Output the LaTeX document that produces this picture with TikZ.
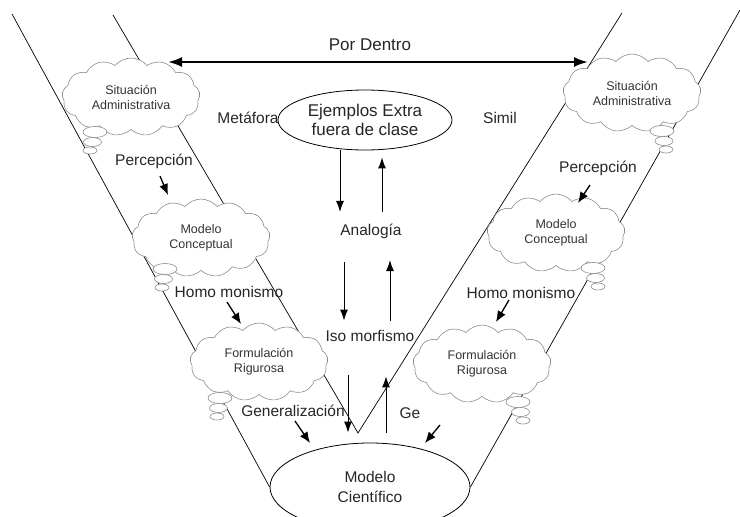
\documentclass[tikz,border=0pt]{standalone}
\usepackage{fontspec}
\setmainfont{Liberation Sans}
\usetikzlibrary{shapes.geometric,shapes.symbols,arrows.meta}

\tikzset{
  lbl/.style={font=\fontsize{15.5}{18}\selectfont, text=black!85},
  thought/.style={cloud, cloud puffs=13, cloud puff arc=100, cloud ignores aspect,
    draw=black!45, fill=white, line width=0.6pt, minimum width=138pt, minimum height=78pt,
    align=center, inner sep=0pt, font=\fontsize{12.5}{15}\selectfont, text=black!80},
  bub/.style={draw=black!45, fill=white, line width=0.6pt},
  oval/.style={ellipse, draw, fill=white, line width=0.8pt, align=center, inner sep=0pt, text=black!85},
  arr/.style={-{Latex[length=11pt,width=8pt]}, line width=1pt},
  tick/.style={-{Latex[length=11pt,width=9pt]}, line width=1.3pt},
  chan/.style={line width=0.7pt}
}

% three small puffs under a cloud: x, y of the first one, drift
\newcommand\bubbles[3]{%
  \draw[bub] (#1,#2) ellipse [x radius=12, y radius=5.5];
  \draw[bub] (#1+#3,#2+10) ellipse [x radius=9, y radius=4.5];
  \draw[bub] (#1+2*#3,#2+18.5) ellipse [x radius=7, y radius=3.5];
}

\begin{document}
\begin{tikzpicture}[x=1pt,y=-1pt]
\useasboundingbox (0,0) rectangle (740,517);

\node[oval, minimum width=174pt, minimum height=60pt, font=\fontsize{17}{19}\selectfont] (ej) at (365,120) {Ejemplos Extra\\fuera de clase};
\node[oval, minimum width=200pt, minimum height=88pt, font=\fontsize{15.5}{20}\selectfont] (mc) at (370,487) {Modelo\\Científico};

% the two channels
\coordinate (oL) at (12,14);
\coordinate (iL) at (113,15);
\coordinate (iR) at (622,13);
\coordinate (oR) at (740,10);
\coordinate (v) at (358,433);
\draw[chan] (oL) -- (mc.west);
\draw[chan] (iL) -- (v) -- (iR);
\draw[chan] (oR) -- (mc.east);

% por dentro
\coordinate (dL) at (168,62);
\coordinate (dR) at (588,62);
\draw[{Latex[length=14pt,width=10pt]}-{Latex[length=14pt,width=10pt]}, line width=2.2pt] (dR) -- (dL);

\node[lbl, font=\fontsize{17}{20}\selectfont] (dentro) at (370,45) {Por Dentro};
\node[lbl] (met) at (248,118) {Metáfora};
\node[lbl] (sim) at (500,118) {Simil};
\node[lbl] (percL) at (154,161) {Percepción};
\node[lbl] (percR) at (598,168) {Percepción};
\node[lbl, inner ysep=11.5pt] (an) at (371,231) {Analogía};
\node[lbl] (homoL) at (229,292) {Homo monismo};
\node[lbl] (homoR) at (521,293) {Homo monismo};
\node[lbl, inner ysep=9.5pt] (iso) at (370,336) {Iso morfismo};
\node[lbl] (gen) at (293,411) {Generalización};
\node[lbl, anchor=west] (ge) at (396,413) {Ge};

\node[thought] (saL) at (131,97) {Situación\\Administrativa};
\node[thought] (saR) at (632,93) {Situación\\Administrativa};
\node[thought] (mcL) at (201,238) {Modelo\\Conceptual};
\node[thought] (mcR) at (556,233) {Modelo\\Conceptual};
\node[thought] (frL) at (259,362) {Formulación\\Rigurosa};
\node[thought] (frR) at (482,364) {Formulación\\Rigurosa};
\bubbles{95}{132}{-2.5}
\bubbles{662}{131}{2}
\bubbles{165}{269}{-1.5}
\bubbles{593}{268}{2.5}
\bubbles{220}{398}{-1.5}
\bubbles{518}{402}{2.5}

% vertical arrows
\draw[arr] ([xshift=-25pt]ej.south) -- ([xshift=-25pt]ej.south |- an.north);
\draw[arr, shorten >=7pt] ([xshift=17pt]ej.south |- an.north) -- ([xshift=17pt]ej.south);
\draw[arr, shorten <=12pt] ([xshift=-27pt]an.south) -- ([xshift=-27pt]an.south |- iso.north);
\draw[arr, shorten >=10pt] ([xshift=19pt]an.south |- iso.north) -- ([xshift=19pt]an.south);
\draw[arr, shorten <=24pt, shorten >=10pt] ([xshift=-22pt]mc.north |- iso.south) -- ([xshift=-22pt]mc.north);
\draw[arr, shorten <=10pt, shorten >=25pt] ([xshift=16pt]mc.north) -- ([xshift=16pt]mc.north |- iso.south);

% short arrows
\coordinate (pL1) at (160,176); \coordinate (pL2) at (168,195);
\coordinate (pR1) at (590,185); \coordinate (pR2) at (578,203);
\coordinate (hL1) at (227,302); \coordinate (hL2) at (241,324);
\coordinate (hR1) at (509,300); \coordinate (hR2) at (496,322);
\coordinate (gL1) at (295,421); \coordinate (gL2) at (310,443);
\coordinate (gR1) at (440,425); \coordinate (gR2) at (425,443);
\draw[tick] (pL1) -- (pL2);
\draw[tick] (pR1) -- (pR2);
\draw[tick] (hL1) -- (hL2);
\draw[tick] (hR1) -- (hR2);
\draw[tick] (gL1) -- (gL2);
\draw[tick] (gR1) -- (gR2);
\end{tikzpicture}
\end{document}
